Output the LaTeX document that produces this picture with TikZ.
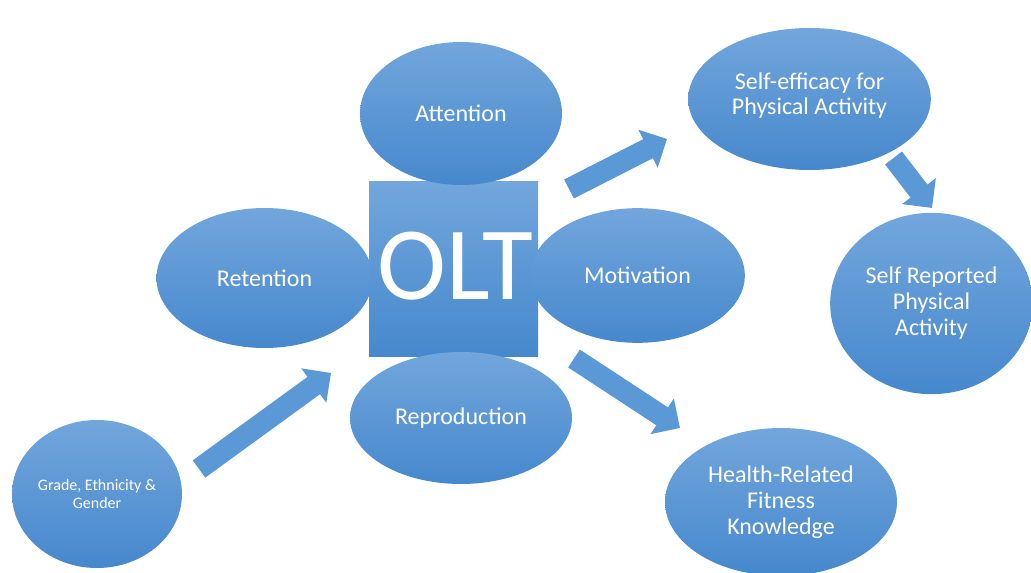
\documentclass[tikz,border=0pt]{standalone}
\usepackage{fontspec}
\setmainfont{Carlito}
\usetikzlibrary{shapes.geometric,arrows.meta}
\definecolor{btop}{RGB}{114,166,220}
\definecolor{bbot}{RGB}{70,136,205}
\definecolor{bmid}{RGB}{90,152,214}
\tikzset{
  blob/.style={ellipse,inner sep=0pt,top color=btop,bottom color=bbot,draw=none,
    text=white,align=center,font=\fontsize{18}{19.5}\selectfont},
  sq/.style={rectangle,inner sep=0pt,top color=btop,bottom color=bbot,draw=none},
  blockarrow/.style={draw=bmid,line width=16pt,
    -{Triangle[length=16pt,width=31pt]}}
}
\begin{document}
\begin{tikzpicture}[x=0.75pt,y=-0.75pt]
\useasboundingbox (0,0) rectangle (1031,573);
\node[blob,minimum width=162pt,minimum height=105pt] (ret) at (264.5,278) {Retention};
\node[sq,minimum width=126.75pt,minimum height=131.25pt] (olt) at (453.5,269.5) {};
\node[text=white,font=\fontsize{78}{82}\selectfont] (oltt) at (455,266) {OLT};
\node[blob,minimum width=151.5pt,minimum height=107.25pt] (att) at (461,113.5) {Attention};
\node[blob,minimum width=161pt,minimum height=101pt] (mot) at (637.5,275.5) {Motivation};
\node[blob,minimum width=166.5pt,minimum height=99pt] (rep) at (461,418) {Reproduction};
\node[blob,minimum width=127.5pt,minimum height=111pt,font=\fontsize{12}{13.5}\selectfont] (grd) at (97,494) {Grade, Ethnicity \&\\Gender};
\node[blob,minimum width=182pt,minimum height=106.5pt,
  label={[text=white,align=center,font=\fontsize{18}{19}\selectfont,yshift=2.5pt]center:{Self-efficacy for\\Physical Activity}}] (se) at (809.5,99) {};
\node[blob,minimum width=152pt,minimum height=136pt] (srp) at (931.5,303.5) {Self Reported\\Physical\\Activity};
\node[blob,minimum width=174pt,minimum height=111pt] (hrf) at (781,502) {Health-Related\\Fitness\\Knowledge};
% arrows
\coordinate (a1s) at (199,469);
\coordinate (a1e) at (331,373);
\coordinate (a2s) at (569,189);
\coordinate (a2e) at (667,139);
\coordinate (a3s) at (893.5,158);
\coordinate (a3e) at (932,208);
\coordinate (a4s) at (574,358.5);
\coordinate (a4e) at (680,428);
\draw[blockarrow] (a1s) -- (a1e);
\draw[blockarrow] (a2s) -- (a2e);
\draw[blockarrow] (a3s) -- (a3e);
\draw[blockarrow] (a4s) -- (a4e);
\end{tikzpicture}
\end{document}
